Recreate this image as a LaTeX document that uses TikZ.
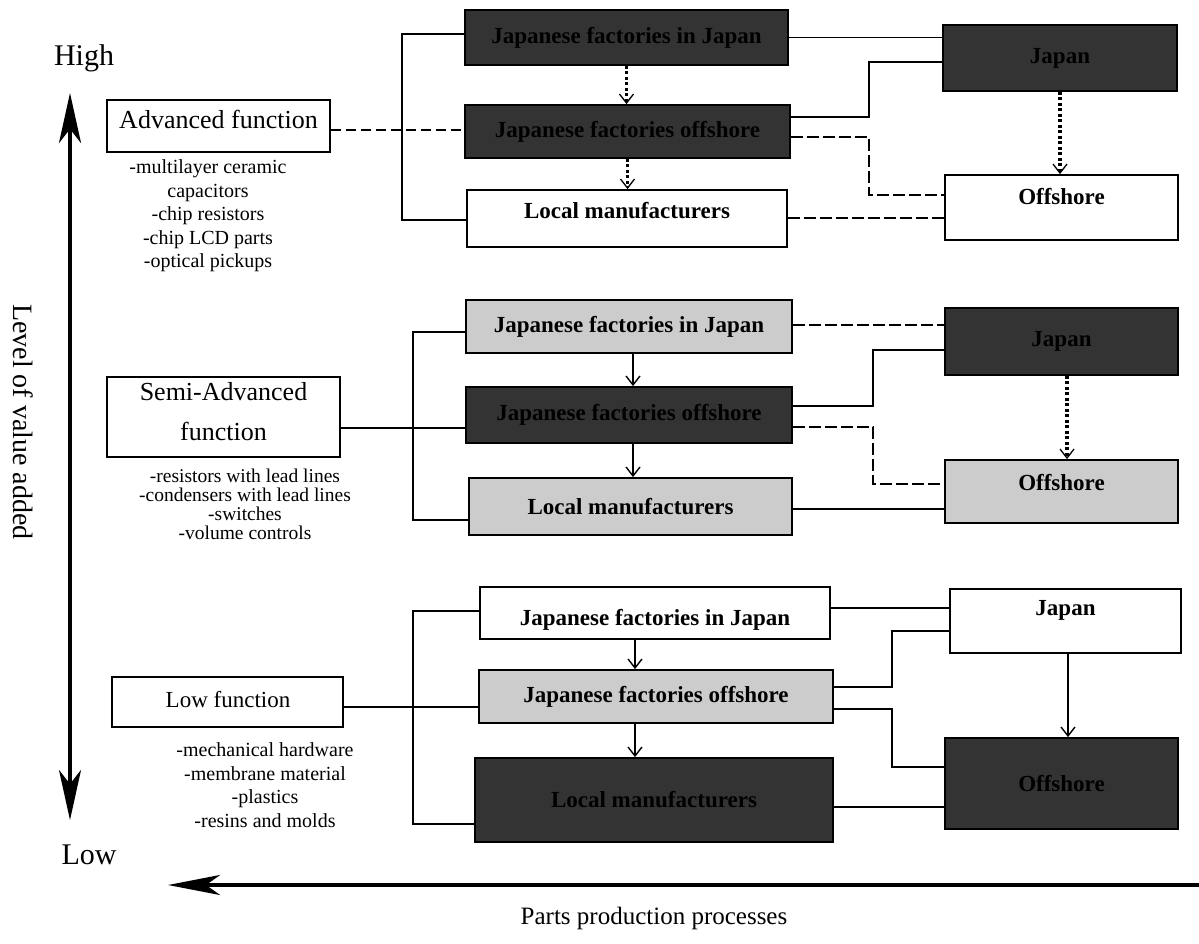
\documentclass[tikz,border=0pt]{standalone}
\usepackage{fontspec}
\setmainfont{Liberation Serif}
\usetikzlibrary{arrows.meta,calc}
\begin{document}
\begin{tikzpicture}[x=1pt,y=-1pt,
  box/.style={draw, line width=1.8pt, inner sep=0pt, rectangle, font=\fontsize{23}{26}\selectfont\bfseries},
  darkbox/.style={box, fill=black!80},
  lightbox/.style={box, fill=black!20},
  whitebox/.style={box, fill=white},
  bt/.style={font=\fontsize{23}{26}\selectfont\bfseries, inner sep=0pt},
  ct/.style={font=\fontsize{26}{40}\selectfont, inner sep=0pt, align=center},
  items/.style={font=\fontsize{20}{23.5}\selectfont, inner sep=0pt, align=center},
  axlab/.style={font=\fontsize{30}{34}\selectfont, inner sep=0pt},
  con/.style={line width=1.2pt},
  dl/.style={line width=1.2pt, dash pattern=on 12pt off 4pt},
  dotarrow/.style={line width=3.6pt, dash pattern=on 3pt off 2.5pt, -{Straight Barb[length=9pt,width=14pt,line width=1.3pt]}},
  sarrow/.style={line width=1.6pt, -{Straight Barb[length=9pt,width=14pt,line width=1.4pt]}},
  axis/.style={line width=4pt}
]
\useasboundingbox (0,0) rectangle (1199,943);

% ---------- top group ----------
\node[darkbox, minimum width=323pt, minimum height=55pt] (t1) at (626.5,37.5) {Japanese factories in Japan};
\node[darkbox, minimum width=325pt, minimum height=53pt] (t2) at (627.5,131.5) {Japanese factories offshore};
\node[whitebox, minimum width=320pt, minimum height=57pt] (t3) at (627,218.5) {};
\node[bt] (t3l) at (627,211) {Local manufacturers};
\node[darkbox, minimum width=234pt, minimum height=66pt] (t4) at (1060,58) {Japan};
\node[whitebox, minimum width=233pt, minimum height=65pt] (t5) at (1061.5,207.5) {};
\node[bt] (t5l) at (1061.5,197) {Offshore};

% ---------- middle group ----------
\node[lightbox, minimum width=326pt, minimum height=53pt] (m1) at (629,326.5) {Japanese factories in Japan};
\node[darkbox, minimum width=326pt, minimum height=56pt] (m2) at (629,415) {Japanese factories offshore};
\node[lightbox, minimum width=323pt, minimum height=57pt] (m3) at (630.5,506.5) {Local manufacturers};
\node[darkbox, minimum width=233pt, minimum height=67pt] (m4) at (1061.5,341.5) {Japan};
\node[lightbox, minimum width=233pt, minimum height=63pt] (m5) at (1061.5,491.5) {};
\node[bt] (m5l) at (1061.5,483) {Offshore};

% ---------- bottom group ----------
\node[whitebox, minimum width=350pt, minimum height=52pt] (b1) at (655,613) {};
\node[bt] (b1l) at (655,620) {Japanese factories in Japan};
\node[lightbox, minimum width=354pt, minimum height=53pt] (b2) at (656,696.5) {Japanese factories offshore};
\node[darkbox, minimum width=358pt, minimum height=84pt] (b3) at (654,800) {Local manufacturers};
\node[whitebox, minimum width=231pt, minimum height=64pt] (b4) at (1065.5,621) {};
\node[bt] (b4l) at (1065.5,610) {Japan};
\node[darkbox, minimum width=233pt, minimum height=91pt] (b6) at (1061.5,783.5) {Offshore};

% ---------- categories ----------
\node[whitebox, minimum width=223pt, minimum height=52pt] (adv) at (218.5,126) {};
\node[ct] (advl) at (218.5,119) {Advanced function};
\node[items] (advi) at (208,216) {-multilayer ceramic\\capacitors\\-chip resistors\\-chip LCD parts\\-optical pickups};

\node[whitebox, minimum width=233pt, minimum height=80pt] (semi) at (223.5,417) {};
\node[ct] (semil) at (223.5,412) {Semi-Advanced\\function};
\node[items, font=\fontsize{19.5}{19}\selectfont] (semii) at (245,504) {-resistors with lead lines\\-condensers with lead lines\\-switches\\-volume controls};

\node[whitebox, minimum width=231pt, minimum height=50pt] (low) at (227.5,702) {};
\node[ct, font=\fontsize{23}{26}\selectfont] (lowl) at (228,700) {Low function};
\node[items] (lowi) at (265,785) {-mechanical hardware\\-membrane material\\-plastics\\-resins and molds};

% ---------- axes ----------
\coordinate (vtop) at (70,93);
\coordinate (vbot) at (70,820);
\coordinate (hright) at (1199,885);
\coordinate (hleft) at (168,885);
\draw[axis, {Stealth[length=50pt,width=22pt,inset=14pt]}-{Stealth[length=50pt,width=22pt,inset=14pt]}] (vtop) -- (vbot);
\draw[axis, -{Stealth[length=52pt,width=20pt,inset=14pt]}] (hright) -- (hleft);
\node[axlab] (high) at (84,58) {High};
\node[axlab] (lowax) at (89,855) {Low};
\node[font=\fontsize{28}{30}\selectfont, inner sep=0pt, rotate=-90] (lva) at (23,422) {Level of value added};
\node[font=\fontsize{25}{28}\selectfont, inner sep=0pt] (ppp) at (654,918) {Parts production processes};

% ---------- left brackets ----------
\draw[con] (t1.west|-0,34) -| (402,220) -- (t3.west|-0,220);
\draw[con, dash pattern=on 10pt off 5pt] (adv.east|-0,130) -- (t2.west|-0,130);
\draw[con] (m1.west|-0,332) -| (413,520) -- (m3.west|-0,520);
\draw[con] (semi.east|-0,428) -- (m2.west|-0,428);
\draw[con] (b1.west|-0,611) -| (413,824) -- (b3.west|-0,824);
\draw[con] (low.east|-0,707) -- (b2.west|-0,707);

% ---------- right connections ----------
\draw[con] (t1.east) -- (t1.east -| t4.west);
\draw[con] (t2.east|-0,117) -| (869,62) -- (t4.west|-0,62);
\draw[dl] (t2.east|-0,137) -| (869,195) -- (t5.west|-0,195);
\draw[dl] (t3.east|-0,218) -- (t5.west|-0,218);

\draw[dl] (m1.east|-0,325) -- (m4.west|-0,325);
\draw[con] (m2.east|-0,406) -| (873,350) -- (m4.west|-0,350);
\draw[dl] (m2.east|-0,427) -| (873,484) -- (m5.west|-0,484);
\draw[con] (m3.east|-0,509) -- (m5.west|-0,509);

\draw[con] (b1.east|-0,608) -- (b4.west|-0,608);
\draw[con] (b2.east|-0,687) -| (892,631) -- (b4.west|-0,631);
\draw[con] (b2.east|-0,709) -| (892,767) -- (b6.west|-0,767);
\draw[con] (b3.east|-0,807) -- (b6.west|-0,807);

% ---------- vertical flow arrows ----------
\draw[dotarrow] (t1.south) -- (t1.south|-t2.north);
\draw[dotarrow] (t2.south) -- (t2.south|-t3.north);
\draw[dotarrow] (t4.south) -- (t4.south|-t5.north);
\draw[dotarrow] (m4.south-|1067,0) -- (m5.north-|1067,0);
\draw[sarrow] (m1.south-|633,0) -- (m2.north-|633,0);
\draw[sarrow] (m2.south-|633,0) -- (m3.north-|633,0);
\draw[sarrow] (b1.south-|635,0) -- (b2.north-|635,0);
\draw[sarrow] (b2.south-|635,0) -- (b3.north-|635,0);
\draw[sarrow] (b4.south-|1068,0) -- (b6.north-|1068,0);
\end{tikzpicture}
\end{document}
